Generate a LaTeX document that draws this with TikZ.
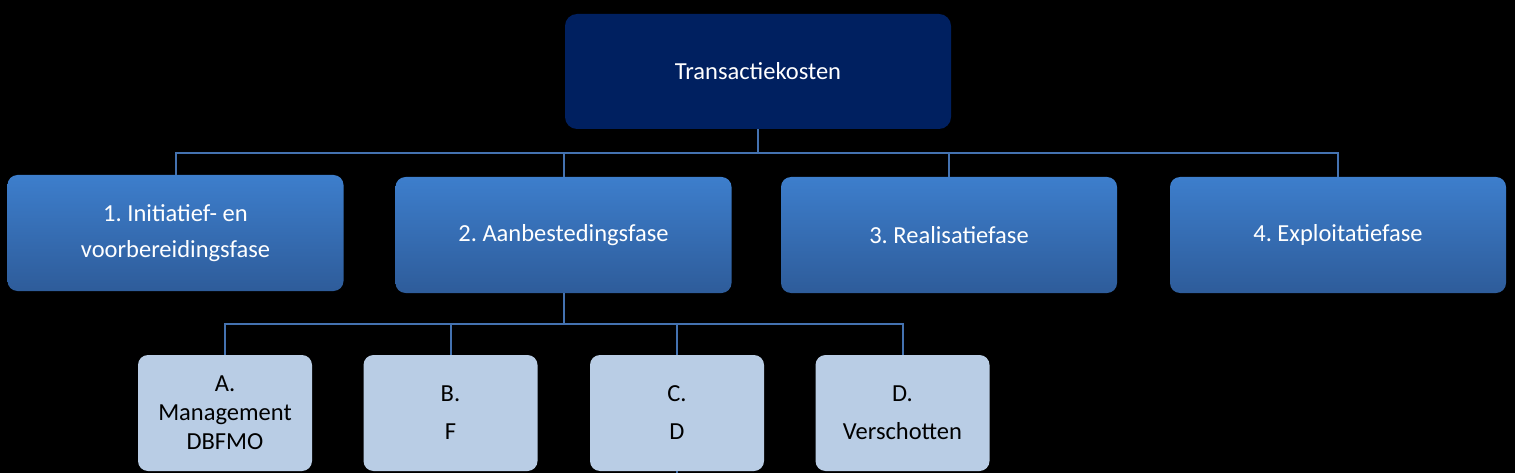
\documentclass[tikz,border=0pt]{standalone}
\usepackage{fontspec}
\setmainfont{Carlito}
\usepackage{tikz}
\usetikzlibrary{positioning}
\frenchspacing

\definecolor{rootnavy}{RGB}{0,32,96}
\definecolor{faseTop}{RGB}{61,126,204}
\definecolor{faseBot}{RGB}{46,92,154}
\definecolor{subfill}{RGB}{185,205,229}
\definecolor{linkblue}{RGB}{68,114,176}

\begin{document}
\begin{tikzpicture}[
  x=1pt,y=-1pt,
  every node/.style={font=\fontsize{24.5}{29}\selectfont,align=center,inner sep=0pt},
  root/.style={rectangle,rounded corners=12pt,fill=rootnavy,text=white,
               minimum width=386pt,minimum height=115pt},
  fase/.style={rectangle,rounded corners=10pt,top color=faseTop,bottom color=faseBot,
               text=white,minimum width=336pt,minimum height=116pt},
  sub/.style ={rectangle,rounded corners=10pt,fill=subfill,text=black,
               minimum width=174pt,minimum height=116pt},
  link/.style={draw=linkblue,line width=2pt},
]
\fill[black] (0,0) rectangle (1515,473);
\useasboundingbox (0,0) rectangle (1515,473);

\node[root] at (758,71.5)   (tk)  {Transactiekosten};

\node[fase] at (175.5,233)  (f1)  {1. Initiatief- en\\[7pt]voorbereidingsfase};
\node[fase] at (563.5,235)  (f2)  {2. Aanbestedingsfase};
\node[fase] at (949,235)    (f3)  {3. Realisatiefase};
\node[fase] at (1338,235)   (f4)  {4. Exploitatiefase};

\node[sub]  at (225,413)    (sa)  {A.\\Management\\DBFMO};
\node[sub]  at (450.5,413)  (sb)  {B.\\[9pt]F};
\node[sub]  at (677,413)    (sc)  {C.\\[9pt]D};
\node[sub]  at (902.5,413)  (sd)  {D.\\[9pt]Verschotten};

\foreach \f in {f1,f2,f3,f4}
  \draw[link] (tk.south) -- ++(0,24) -| (\f.north);
\foreach \s in {sa,sb,sc,sd}
  \draw[link] (f2.south) -- ++(0,31) -| (\s.north);
\draw[link] (sc.south) -- ++(0,4);
\end{tikzpicture}
\end{document}
